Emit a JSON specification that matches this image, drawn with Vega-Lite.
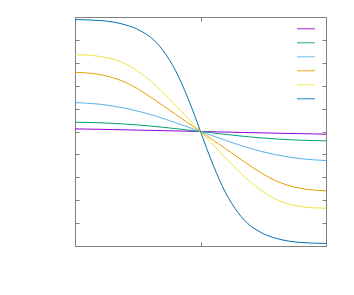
{
  "$schema": "https://vega.github.io/schema/vega-lite/v6.json",
  "width": 251,
  "height": 229,
  "autosize": "none",
  "padding": {"left": 75, "top": 17, "right": 28, "bottom": 49},
  "background": "white",
  "config": {
    "view": {"stroke": "#7f7f7f", "strokeWidth": 1},
    "axis": {"grid": false, "labels": false, "domain": false, "title": null, "tickColor": "#7f7f7f", "tickSize": -4, "tickWidth": 1}
  },
  "data": {
    "values": [
      {"x": -1, "p": 0.023, "g": 0.081, "c": 0.252, "o": 0.517, "yl": 0.671, "b": 0.978},
      {"x": -0.9, "p": 0.021, "g": 0.079, "c": 0.247, "o": 0.511, "yl": 0.667, "b": 0.975},
      {"x": -0.8, "p": 0.019, "g": 0.076, "c": 0.238, "o": 0.497, "yl": 0.655, "b": 0.969},
      {"x": -0.7, "p": 0.017, "g": 0.071, "c": 0.223, "o": 0.471, "yl": 0.633, "b": 0.957},
      {"x": -0.6, "p": 0.0145, "g": 0.065, "c": 0.203, "o": 0.430, "yl": 0.593, "b": 0.932},
      {"x": -0.5, "p": 0.012, "g": 0.057, "c": 0.178, "o": 0.373, "yl": 0.527, "b": 0.892},
      {"x": -0.45, "p": 0.011, "g": 0.053, "c": 0.164, "o": 0.338, "yl": 0.488, "b": 0.862},
      {"x": -0.4, "p": 0.010, "g": 0.048, "c": 0.148, "o": 0.302, "yl": 0.443, "b": 0.825},
      {"x": -0.35, "p": 0.0087, "g": 0.0425, "c": 0.132, "o": 0.265, "yl": 0.394, "b": 0.775},
      {"x": -0.3, "p": 0.0075, "g": 0.037, "c": 0.114, "o": 0.227, "yl": 0.341, "b": 0.710},
      {"x": -0.25, "p": 0.0062, "g": 0.031, "c": 0.096, "o": 0.189, "yl": 0.286, "b": 0.630},
      {"x": -0.2, "p": 0.005, "g": 0.025, "c": 0.077, "o": 0.151, "yl": 0.231, "b": 0.535},
      {"x": -0.15, "p": 0.0037, "g": 0.019, "c": 0.058, "o": 0.113, "yl": 0.174, "b": 0.420},
      {"x": -0.1, "p": 0.0025, "g": 0.0125, "c": 0.039, "o": 0.075, "yl": 0.116, "b": 0.290},
      {"x": -0.05, "p": 0.0012, "g": 0.0063, "c": 0.0195, "o": 0.0375, "yl": 0.058, "b": 0.150},
      {"x": 0, "p": 0, "g": 0, "c": 0, "o": 0, "yl": 0, "b": 0},
      {"x": 0.05, "p": -0.0012, "g": -0.0063, "c": -0.0195, "o": -0.0375, "yl": -0.058, "b": -0.150},
      {"x": 0.1, "p": -0.0025, "g": -0.0125, "c": -0.039, "o": -0.075, "yl": -0.116, "b": -0.290},
      {"x": 0.15, "p": -0.0037, "g": -0.019, "c": -0.058, "o": -0.113, "yl": -0.174, "b": -0.420},
      {"x": 0.2, "p": -0.005, "g": -0.025, "c": -0.077, "o": -0.151, "yl": -0.231, "b": -0.535},
      {"x": 0.25, "p": -0.0062, "g": -0.031, "c": -0.096, "o": -0.189, "yl": -0.286, "b": -0.630},
      {"x": 0.3, "p": -0.0075, "g": -0.037, "c": -0.114, "o": -0.227, "yl": -0.341, "b": -0.710},
      {"x": 0.35, "p": -0.0087, "g": -0.0425, "c": -0.132, "o": -0.265, "yl": -0.394, "b": -0.775},
      {"x": 0.4, "p": -0.010, "g": -0.048, "c": -0.148, "o": -0.302, "yl": -0.443, "b": -0.825},
      {"x": 0.45, "p": -0.011, "g": -0.053, "c": -0.164, "o": -0.338, "yl": -0.488, "b": -0.862},
      {"x": 0.5, "p": -0.012, "g": -0.057, "c": -0.178, "o": -0.373, "yl": -0.527, "b": -0.892},
      {"x": 0.6, "p": -0.0145, "g": -0.065, "c": -0.203, "o": -0.430, "yl": -0.593, "b": -0.932},
      {"x": 0.7, "p": -0.017, "g": -0.071, "c": -0.223, "o": -0.471, "yl": -0.633, "b": -0.957},
      {"x": 0.8, "p": -0.019, "g": -0.076, "c": -0.238, "o": -0.497, "yl": -0.655, "b": -0.969},
      {"x": 0.9, "p": -0.021, "g": -0.079, "c": -0.247, "o": -0.511, "yl": -0.667, "b": -0.975},
      {"x": 1, "p": -0.024, "g": -0.082, "c": -0.254, "o": -0.518, "yl": -0.670, "b": -0.978}
    ]
  },
  "transform": [
    {"fold": ["p", "g", "c", "o", "yl", "b"], "as": ["s", "v"]}
  ],
  "layer": [
    {
      "mark": {"type": "line", "strokeWidth": 1, "interpolate": "monotone"},
      "encoding": {
        "x": {"field": "x", "type": "quantitative", "scale": {"domain": [-1, 1], "nice": false, "zero": false}, "axis": {"orient": "bottom", "values": [-1, 0, 1]}},
        "y": {"field": "v", "type": "quantitative", "scale": {"domain": [-1, 1], "nice": false, "zero": false}, "axis": {"orient": "left", "values": [-1, -0.8, -0.6, -0.4, -0.2, 0, 0.2, 0.4, 0.6, 0.8, 1]}},
        "color": {
          "field": "s", "type": "nominal",
          "scale": {"domain": ["p", "g", "c", "o", "yl", "b"], "range": ["#9400d3", "#009e73", "#56b4e9", "#e69f00", "#f0e442", "#0072b2"]},
          "legend": {"orient": "none", "legendX": 221, "legendY": 4.85, "title": null, "padding": 0, "symbolType": "stroke", "symbolSize": 324, "symbolStrokeWidth": 1.5, "symbolOpacity": 0.6, "clipHeight": 13.7, "rowPadding": 0, "labelExpr": "''", "labelFontSize": 8}
        },
        "detail": {"field": "s"}
      }
    },
    {
      "mark": {"type": "line", "opacity": 0},
      "encoding": {
        "x": {"field": "x", "type": "quantitative", "scale": {"domain": [-1, 1], "nice": false, "zero": false}, "axis": {"orient": "top", "values": [-1, 0, 1]}},
        "y": {"field": "v", "type": "quantitative", "scale": {"domain": [-1, 1], "nice": false, "zero": false}, "axis": {"orient": "right", "values": [-1, -0.8, -0.6, -0.4, -0.2, 0, 0.2, 0.4, 0.6, 0.8, 1]}},
        "detail": {"field": "s"}
      }
    }
  ],
  "resolve": {"axis": {"x": "independent", "y": "independent"}}
}
